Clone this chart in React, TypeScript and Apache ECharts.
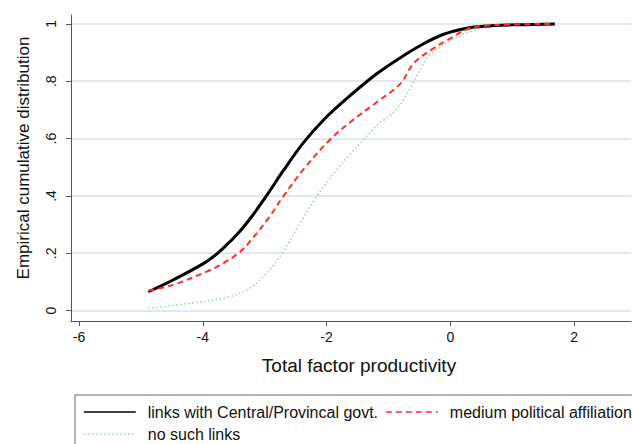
import React, { useEffect, useRef } from "react";
import * as echarts from "echarts";

const xTicks = [-6, -4, -2, 0, 2];
const yTicks = [0, 0.2, 0.4, 0.6, 0.8, 1];

const seriesNames = [
  "links with Central/Provincal govt.",
  "medium political affiliation",
  "no such links",
];

const blackX = [-4.88, -4.48, -3.94, -3.67, -3.4, -3.2, -2.97, -2.7, -2.38, -2.05, -1.7, -1.19, -0.76, -0.44, -0.12, 0.26, 0.53, 1.07, 1.69];
const blackY = [0.066, 0.107, 0.171, 0.218, 0.277, 0.331, 0.401, 0.488, 0.584, 0.665, 0.735, 0.826, 0.889, 0.93, 0.963, 0.985, 0.992, 0.997, 1.0];

const redX = [-4.88, -4.48, -3.94, -3.67, -3.4, -3.24, -2.94, -2.7, -2.38, -1.95, -1.62, -1.19, -0.81, -0.6, -0.33, -0.01, 0.29, 0.6, 1.0, 1.69];
const redY = [0.07, 0.09, 0.136, 0.165, 0.205, 0.241, 0.322, 0.398, 0.491, 0.595, 0.657, 0.727, 0.791, 0.861, 0.907, 0.948, 0.983, 0.994, 0.998, 1.0];

const greenX = [-4.88, -4.21, -3.67, -3.29, -2.97, -2.7, -2.43, -2.16, -1.84, -1.62, -1.41, -1.19, -0.9, -0.76, -0.6, -0.45, -0.33, -0.01, 0.29, 0.7, 1.0, 1.69];
const greenY = [0.008, 0.026, 0.043, 0.072, 0.13, 0.206, 0.305, 0.398, 0.49, 0.545, 0.595, 0.645, 0.695, 0.735, 0.795, 0.855, 0.893, 0.94, 0.971, 0.993, 0.998, 1.0];

const pairs = (xs: number[], ys: number[]) => xs.map((x, i) => [x, ys[i]]);

const FONT = "Liberation Sans, Arial, Helvetica, sans-serif";

export default function App() {
  const ref = useRef<HTMLDivElement>(null);
  useEffect(() => {
    if (!ref.current) return;
    const chart = echarts.init(ref.current, undefined, { renderer: "svg" });
    const fmtY = (v: number) => {
      if (v === 0) return "0";
      if (v === 1) return "1";
      return String(Math.round(v * 10) / 10).replace(/^0/, "");
    };
    const legendCommon = {
      left: 83,
      width: 600,
      padding: 0,
      itemWidth: 52,
      itemHeight: 14,
      orient: "horizontal",
      textStyle: { fontSize: 16, color: "#111", fontFamily: FONT, padding: [0, 0, 0, 7] },
      lineStyle: { width: 1.5 },
      itemStyle: { opacity: 0 },
    };
    chart.setOption({
      animation: false,
      backgroundColor: "#ffffff",
      textStyle: { fontFamily: FONT },
      grid: { left: 71, top: 15, right: 1, bottom: 123, containLabel: false },
      xAxis: {
        type: "value",
        min: -6.129,
        max: 2.918,
        axisLine: { show: true, onZero: false, lineStyle: { color: "#555", width: 1 } },
        axisTick: { show: true, length: 5, customValues: xTicks, lineStyle: { color: "#555" } },
        axisLabel: { customValues: xTicks, color: "#111", fontSize: 14, margin: 9, fontFamily: FONT },
        splitLine: { show: false },
      },
      yAxis: {
        type: "value",
        min: -0.036,
        max: 1.031,
        axisLine: { show: true, onZero: false, lineStyle: { color: "#555", width: 1 } },
        axisTick: { show: true, length: 5, customValues: yTicks, lineStyle: { color: "#555" } },
        axisLabel: {
          customValues: yTicks,
          rotate: 90,
          color: "#111",
          fontSize: 14,
          margin: 13,
          fontFamily: FONT,
          formatter: fmtY,
        },
        splitLine: { show: false },
      },
      legend: [
        {
          ...legendCommon,
          data: [seriesNames[0], seriesNames[1]],
          top: 404,
          itemGap: 7,
        },
        {
          ...legendCommon,
          data: [seriesNames[2]],
          top: 426,
        },
      ],
      graphic: [
        {
          type: "rect",
          shape: { x: 75, y: 395, width: 620, height: 80 },
          style: { fill: "none", stroke: "#666", lineWidth: 1 },
          silent: true,
        },
        {
          type: "text",
          x: 359,
          y: 365,
          style: {
            text: "Total factor productivity",
            fontSize: 19,
            fontFamily: FONT,
            fill: "#111",
            textAlign: "center",
            textVerticalAlign: "middle",
          },
        },
        {
          type: "text",
          x: 23,
          y: 158,
          rotation: Math.PI / 2,
          style: {
            text: "Empirical cumulative distribution",
            fontSize: 17,
            fontFamily: FONT,
            fill: "#111",
            textAlign: "center",
            textVerticalAlign: "middle",
          },
        },
      ],
      series: [
        {
          name: "grid",
          type: "custom",
          silent: true,
          z: 1,
          data: yTicks.map((v) => [0, v]),
          renderItem: (params: any, api: any) => {
            const cs = params.coordSys;
            const y = Math.round(api.coord([0, api.value(1)])[1]);
            return {
              type: "line",
              shape: { x1: cs.x + 1, y1: y, x2: cs.x + cs.width, y2: y },
              style: { stroke: "#d6e2e9", lineWidth: 1.5 },
            };
          },
        },
        {
          name: seriesNames[0],
          type: "line",
          data: pairs(blackX, blackY),
          smooth: 0.35,
          symbol: "none",
          showSymbol: false,
          z: 4,
          lineStyle: { color: "#000000", width: 3 },
          itemStyle: { color: "#000000" },
        },
        {
          name: seriesNames[1],
          type: "line",
          data: pairs(redX, redY),
          smooth: 0.35,
          symbol: "none",
          showSymbol: false,
          z: 5,
          lineStyle: { color: "#ff2b2b", width: 2, type: [6, 4] },
          itemStyle: { color: "#ff2b2b" },
        },
        {
          name: seriesNames[2],
          type: "line",
          data: pairs(greenX, greenY),
          smooth: 0.35,
          symbol: "none",
          showSymbol: false,
          z: 3,
          lineStyle: { color: "#9fcf98", width: 1.5, type: [1.5, 2.5] },
          itemStyle: { color: "#9fcf98" },
        },
      ],
    });
    return () => chart.dispose();
  }, []);
  return (
    <div
      ref={ref}
      style={{ position: "fixed", left: 0, top: 0, width: 632, height: 444, background: "#fff" }}
    />
  );
}
